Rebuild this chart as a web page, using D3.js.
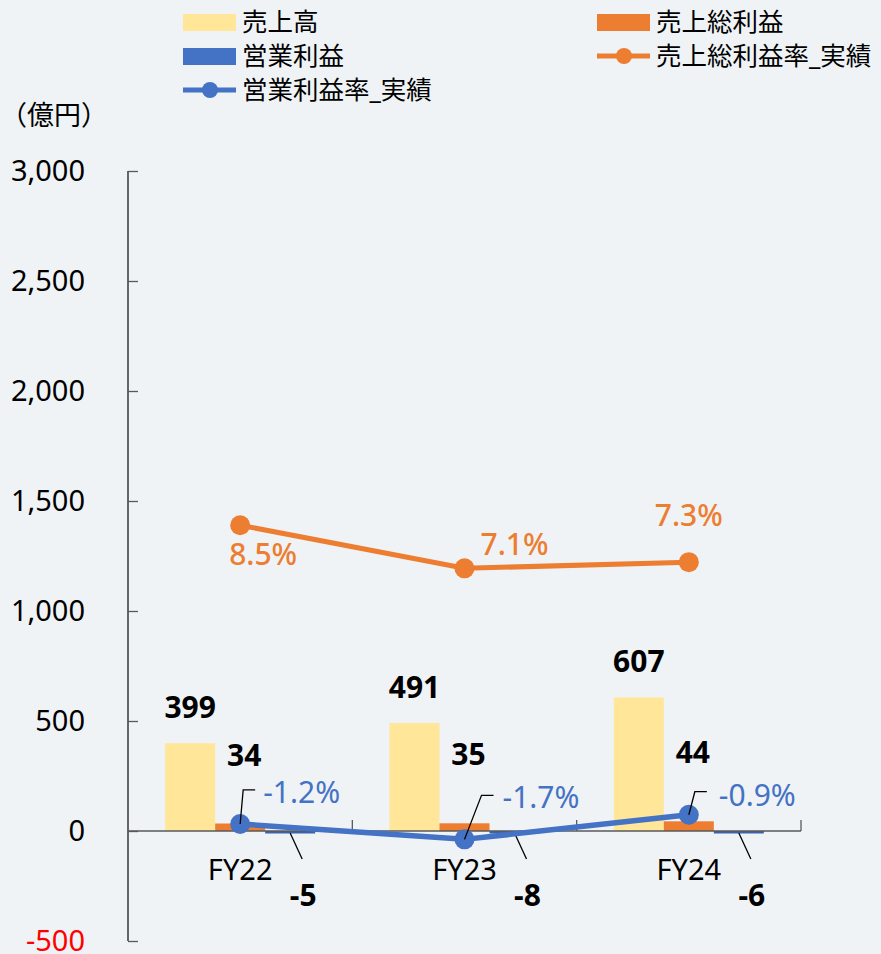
<!DOCTYPE html>
<html>
<head>
<meta charset="utf-8">
<script src="https://cdn.jsdelivr.net/npm/d3@7"></script>
<style>
  html, body { margin: 0; padding: 0; background: #eff3f5; }
  svg { display: block; font-family: "Noto Sans", "Noto Sans CJK JP", sans-serif; }
</style>
</head>
<body>
<div id="chart"></div>
<script>
// data
const years = ["FY22", "FY23", "FY24"];
const sales = [399, 491, 607];
const grossProfit = [34, 35, 44];
const opProfit = [-5, -8, -6];
const grossMargin = [8.5, 7.1, 7.3];
const opMargin = [-1.2, -1.7, -0.9];
const yTicks = [-500, 0, 500, 1000, 1500, 2000, 2500, 3000];

{
    const width = 881, height = 954;
    const plot = { left: 128, right: 801, top: 171, bottom: 941 };

    const colors = {
        sales: "#ffe699",
        gross: "#ed7d31",
        op: "#4472c4"
    };

    const svg = d3.select("#chart").append("svg")
        .attr("width", width)
        .attr("height", height);

    svg.append("rect").attr("width", width).attr("height", height).attr("fill", "#eff3f5");

    const x = d3.scaleBand().domain(years).range([plot.left, plot.right]).padding(0);
    const sub = d3.scaleBand().domain(["sales", "gross", "op"])
        .range([0, 150]);
    const groupOffset = (x.bandwidth() - 150) / 2;

    const y = d3.scaleLinear().domain([-500, 3000]).range([plot.bottom, plot.top]);
    // hidden secondary axis for margins (%)
    const y2 = d3.scaleLinear().domain([-5, 20]).range([plot.bottom, plot.top]);

    // y axis
    const yAxis = svg.append("g")
        .attr("transform", `translate(${plot.left},0)`)
        .call(d3.axisRight(y).tickValues(yTicks).tickSize(10).tickFormat(""));
    yAxis.select(".domain").attr("stroke", "#1a1a1a").attr("stroke-width", 1.3)
        .attr("d", `M0,${plot.top}V${plot.bottom}`);
    yAxis.selectAll(".tick line").attr("stroke", "#595959").attr("stroke-width", 1.3);

    svg.append("g").selectAll("text")
        .data(yTicks)
        .join("text")
        .attr("x", 85)
        .attr("y", d => y(d))
        .attr("dy", "0.36em")
        .attr("text-anchor", "end")
        .attr("font-size", 29)
        .attr("fill", d => d < 0 ? "#ff0000" : "#000")
        .text(d => d3.format(",")(d).replace("\u2212", "-"));

    svg.append("text")
        .attr("x", 0).attr("y", 125)
        .attr("font-size", 27)
        .attr("fill", "#000")
        .text("（億円）");

    // bars
    const bars = [];
    years.forEach((yr, i) => {
        bars.push({ yr, key: "sales", v: sales[i] });
        bars.push({ yr, key: "gross", v: grossProfit[i] });
        bars.push({ yr, key: "op", v: opProfit[i] });
    });
    const barX = d => x(d.yr) + groupOffset + sub(d.key);

    svg.append("g").selectAll("rect")
        .data(bars)
        .join("rect")
        .attr("x", barX)
        .attr("width", sub.bandwidth())
        .attr("y", d => d.key === "op" ? y(0) : y(Math.max(0, d.v)))
        .attr("height", d => d.key === "op" ? 2.5 : Math.abs(y(d.v) - y(0)))
        .attr("fill", d => d.key === "op" ? "#3a63ad" : colors[d.key]);

    // x axis
    const xAxis = svg.append("g")
        .attr("transform", `translate(0,${y(0)})`);
    xAxis.append("line")
        .attr("x1", plot.left).attr("x2", plot.right)
        .attr("stroke", "#595959").attr("stroke-width", 1.3);
    xAxis.selectAll(".sep")
        .data(years)
        .join("line")
        .attr("class", "sep")
        .attr("x1", d => x(d) + x.bandwidth()).attr("x2", d => x(d) + x.bandwidth())
        .attr("y1", 0).attr("y2", -11)
        .attr("stroke", "#595959").attr("stroke-width", 1.3);
    xAxis.selectAll("text")
        .data(years)
        .join("text")
        .attr("x", d => x(d) + x.bandwidth() / 2)
        .attr("y", 49)
        .attr("text-anchor", "middle")
        .attr("font-size", 29)
        .attr("fill", "#000")
        .text(d => d);

    const cx = i => x(years[i]) + x.bandwidth() / 2;
    const subCx = (i, key) => x(years[i]) + groupOffset + sub(key) + sub.bandwidth() / 2;

    // bar labels
    const lbl = svg.append("g").attr("font-size", 30).attr("font-weight", "bold").attr("fill", "#000");
    sales.forEach((v, i) => {
        lbl.append("text")
            .attr("x", subCx(i, "sales")).attr("y", y(v) - 25)
            .attr("text-anchor", "middle").text(v);
    });
    grossProfit.forEach((v, i) => {
        lbl.append("text")
            .attr("x", subCx(i, "gross") + 4).attr("y", y(v) - 58)
            .attr("text-anchor", "middle").text(v);
    });
    opProfit.forEach((v, i) => {
        const bx = subCx(i, "op");
        svg.append("line")
            .attr("x1", bx).attr("y1", y(0) + 2)
            .attr("x2", bx + 12).attr("y2", y(0) + 28)
            .attr("stroke", "#000").attr("stroke-width", 1.3);
        lbl.append("text")
            .attr("x", bx + 13).attr("y", y(0) + 75)
            .attr("text-anchor", "middle").text(v);
    });

    // margin lines
    const line = d3.line().x((d, i) => cx(i)).y(d => y2(d));

    svg.append("path")
        .datum(grossMargin)
        .attr("d", line)
        .attr("fill", "none")
        .attr("stroke", colors.gross)
        .attr("stroke-width", 5);
    svg.append("g").selectAll("circle")
        .data(grossMargin)
        .join("circle")
        .attr("cx", (d, i) => cx(i)).attr("cy", d => y2(d))
        .attr("r", 10).attr("fill", colors.gross);

    // gross margin labels: [dx center, dy baseline]
    const gmLabelPos = [[23, 40], [50, -13], [0, -36]];
    svg.append("g").selectAll("text")
        .data(grossMargin)
        .join("text")
        .attr("x", (d, i) => cx(i) + gmLabelPos[i][0])
        .attr("y", (d, i) => y2(d) + gmLabelPos[i][1])
        .attr("text-anchor", "middle")
        .attr("font-size", 30)
        .attr("font-weight", 500)
        .attr("fill", colors.gross)
        .text(d => d.toFixed(1) + "%");

    svg.append("path")
        .datum(opMargin)
        .attr("d", line)
        .attr("fill", "none")
        .attr("stroke", colors.op)
        .attr("stroke-width", 5.5);
    svg.append("g").selectAll("circle")
        .data(opMargin)
        .join("circle")
        .attr("cx", (d, i) => cx(i)).attr("cy", d => y2(d))
        .attr("r", 10).attr("fill", colors.op);

    // op margin labels with leader lines: [leader end dx, leader end y offset, text dx, baseline dy]
    const omLabelPos = [[3, -34, 23, -21], [17, -44, 38, -31], [6, -23, 30, -9]];
    opMargin.forEach((v, i) => {
        const px = cx(i), py = y2(v);
        const p = omLabelPos[i];
        svg.append("polyline")
            .attr("points", `${px},${py} ${px + p[0]},${py + p[1]} ${px + p[0] + 12},${py + p[1]}`)
            .attr("fill", "none")
            .attr("stroke", "#000")
            .attr("stroke-width", 1.3);
        svg.append("text")
            .attr("x", px + p[2]).attr("y", py + p[3])
            .attr("font-size", 30)
            .attr("fill", colors.op)
            .text(v.toFixed(1) + "%");
    });

    // legend
    const legendItems = [
        { name: "売上高", type: "rect", color: colors.sales, x: 183, y: 22 },
        { name: "売上総利益", type: "rect", color: colors.gross, x: 597, y: 22 },
        { name: "営業利益", type: "rect", color: colors.op, x: 183, y: 56 },
        { name: "売上総利益率_実績", type: "line", color: colors.gross, x: 597, y: 56 },
        { name: "営業利益率_実績", type: "line", color: colors.op, x: 183, y: 90 }
    ];
    const lg = svg.append("g");
    legendItems.forEach(d => {
        const g = lg.append("g").attr("transform", `translate(${d.x},${d.y})`);
        if (d.type === "rect") {
            g.append("rect").attr("x", 0).attr("y", -8).attr("width", 53).attr("height", 17).attr("fill", d.color);
        } else {
            g.append("line").attr("x1", 0).attr("x2", 53).attr("stroke", d.color).attr("stroke-width", 5);
            g.append("circle").attr("cx", 27).attr("r", 8).attr("fill", d.color);
        }
        g.append("text")
            .attr("x", 59).attr("y", 0).attr("dy", "0.36em")
            .attr("font-size", 25.5)
            .attr("fill", "#000")
            .text(d.name);
    });
}
</script>
</body>
</html>
